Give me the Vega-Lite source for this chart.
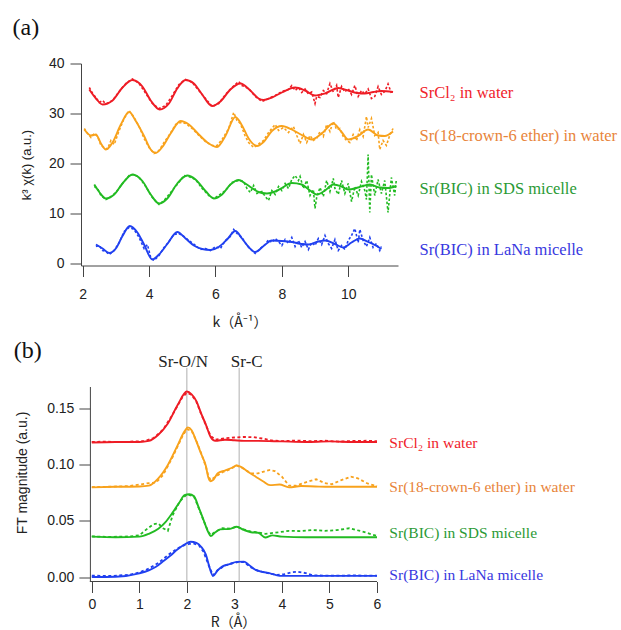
{
  "$schema": "https://vega.github.io/schema/vega-lite/v6.json",
  "background": "white",
  "padding": {"left": 12, "top": 15.5, "right": 0, "bottom": 0},
  "columns": 1,
  "spacing": 9,
  "config": {
    "view": {"stroke": null},
    "axis": {
      "grid": false,
      "labelFont": "Liberation Sans",
      "labelFontSize": 14,
      "labelColor": "#222",
      "labelFlush": false,
      "labelOverlap": false,
      "tickSize": 11,
      "tickColor": "#444",
      "domainColor": "#444",
      "titleFont": "Liberation Sans",
      "titleFontSize": 14,
      "titleFontWeight": "normal",
      "titleColor": "#222"
    }
  },
  "datasets": {
    "a_fit": [
      {"s":"r","x":2.2,"y":34.8},{"s":"r","x":2.4,"y":33.0},{"s":"r","x":2.6,"y":31.8},{"s":"r","x":2.9,"y":32.6},{"s":"r","x":3.2,"y":35.2},{"s":"r","x":3.5,"y":36.7},{"s":"r","x":3.8,"y":35.4},{"s":"r","x":4.05,"y":32.6},{"s":"r","x":4.32,"y":30.8},{"s":"r","x":4.6,"y":32.0},{"s":"r","x":4.85,"y":35.0},{"s":"r","x":5.1,"y":36.7},{"s":"r","x":5.35,"y":36.0},{"s":"r","x":5.6,"y":33.8},{"s":"r","x":5.9,"y":31.5},{"s":"r","x":6.15,"y":32.4},{"s":"r","x":6.45,"y":34.8},{"s":"r","x":6.75,"y":36.0},{"s":"r","x":7.05,"y":34.6},{"s":"r","x":7.3,"y":33.0},{"s":"r","x":7.45,"y":32.7},{"s":"r","x":7.7,"y":33.2},{"s":"r","x":8.0,"y":34.2},{"s":"r","x":8.4,"y":35.2},{"s":"r","x":8.7,"y":34.6},{"s":"r","x":9.0,"y":33.6},{"s":"r","x":9.3,"y":34.0},{"s":"r","x":9.7,"y":35.1},{"s":"r","x":10.0,"y":34.6},{"s":"r","x":10.26,"y":34.1},{"s":"r","x":10.5,"y":34.0},{"s":"r","x":10.76,"y":34.3},{"s":"r","x":11.0,"y":34.5},{"s":"r","x":11.35,"y":34.3},
      {"s":"o","x":2.05,"y":26.8},{"s":"o","x":2.25,"y":25.6},{"s":"o","x":2.4,"y":25.8},{"s":"o","x":2.55,"y":24.0},{"s":"o","x":2.7,"y":22.8},{"s":"o","x":2.9,"y":24.2},{"s":"o","x":3.15,"y":27.8},{"s":"o","x":3.4,"y":30.3},{"s":"o","x":3.6,"y":28.5},{"s":"o","x":3.85,"y":25.5},{"s":"o","x":4.05,"y":22.8},{"s":"o","x":4.2,"y":22.1},{"s":"o","x":4.4,"y":23.3},{"s":"o","x":4.65,"y":26.0},{"s":"o","x":4.95,"y":28.5},{"s":"o","x":5.2,"y":27.8},{"s":"o","x":5.5,"y":25.8},{"s":"o","x":5.8,"y":24.0},{"s":"o","x":6.05,"y":23.3},{"s":"o","x":6.3,"y":25.5},{"s":"o","x":6.6,"y":29.3},{"s":"o","x":6.8,"y":27.6},{"s":"o","x":7.0,"y":25.0},{"s":"o","x":7.25,"y":23.5},{"s":"o","x":7.45,"y":24.3},{"s":"o","x":7.7,"y":26.5},{"s":"o","x":8.0,"y":27.5},{"s":"o","x":8.3,"y":26.8},{"s":"o","x":8.6,"y":25.7},{"s":"o","x":8.9,"y":24.8},{"s":"o","x":9.2,"y":26.0},{"s":"o","x":9.55,"y":28.0},{"s":"o","x":9.8,"y":26.3},{"s":"o","x":10.0,"y":24.8},{"s":"o","x":10.3,"y":25.5},{"s":"o","x":10.6,"y":26.8},{"s":"o","x":10.9,"y":25.6},{"s":"o","x":11.1,"y":25.5},{"s":"o","x":11.35,"y":26.4},
      {"s":"g","x":2.35,"y":15.8},{"s":"g","x":2.5,"y":14.3},{"s":"g","x":2.7,"y":13.0},{"s":"g","x":2.95,"y":13.8},{"s":"g","x":3.2,"y":16.0},{"s":"g","x":3.5,"y":17.8},{"s":"g","x":3.8,"y":16.5},{"s":"g","x":4.05,"y":13.8},{"s":"g","x":4.3,"y":12.0},{"s":"g","x":4.55,"y":13.0},{"s":"g","x":4.85,"y":16.0},{"s":"g","x":5.15,"y":17.6},{"s":"g","x":5.4,"y":16.8},{"s":"g","x":5.7,"y":14.5},{"s":"g","x":5.95,"y":13.0},{"s":"g","x":6.2,"y":13.8},{"s":"g","x":6.45,"y":15.8},{"s":"g","x":6.7,"y":16.7},{"s":"g","x":6.9,"y":16.0},{"s":"g","x":7.1,"y":15.1},{"s":"g","x":7.3,"y":14.3},{"s":"g","x":7.55,"y":14.0},{"s":"g","x":7.8,"y":14.4},{"s":"g","x":8.0,"y":15.1},{"s":"g","x":8.3,"y":16.1},{"s":"g","x":8.6,"y":15.8},{"s":"g","x":8.85,"y":14.6},{"s":"g","x":9.05,"y":13.8},{"s":"g","x":9.3,"y":14.6},{"s":"g","x":9.55,"y":15.8},{"s":"g","x":9.8,"y":15.4},{"s":"g","x":10.0,"y":14.8},{"s":"g","x":10.3,"y":15.2},{"s":"g","x":10.65,"y":15.8},{"s":"g","x":10.95,"y":15.2},{"s":"g","x":11.2,"y":15.1},{"s":"g","x":11.45,"y":15.5},
      {"s":"b","x":2.4,"y":3.8},{"s":"b","x":2.6,"y":3.0},{"s":"b","x":2.8,"y":2.1},{"s":"b","x":3.0,"y":3.0},{"s":"b","x":3.2,"y":5.5},{"s":"b","x":3.42,"y":7.5},{"s":"b","x":3.65,"y":6.2},{"s":"b","x":3.85,"y":3.8},{"s":"b","x":4.1,"y":0.8},{"s":"b","x":4.3,"y":1.8},{"s":"b","x":4.55,"y":3.9},{"s":"b","x":4.85,"y":6.3},{"s":"b","x":5.1,"y":5.0},{"s":"b","x":5.35,"y":3.6},{"s":"b","x":5.6,"y":2.9},{"s":"b","x":5.85,"y":2.7},{"s":"b","x":6.1,"y":3.3},{"s":"b","x":6.35,"y":4.8},{"s":"b","x":6.6,"y":6.5},{"s":"b","x":6.8,"y":5.0},{"s":"b","x":7.0,"y":3.3},{"s":"b","x":7.2,"y":2.3},{"s":"b","x":7.45,"y":3.5},{"s":"b","x":7.7,"y":4.6},{"s":"b","x":8.0,"y":4.5},{"s":"b","x":8.3,"y":4.3},{"s":"b","x":8.6,"y":3.9},{"s":"b","x":8.8,"y":3.8},{"s":"b","x":9.1,"y":4.4},{"s":"b","x":9.3,"y":4.6},{"s":"b","x":9.6,"y":3.9},{"s":"b","x":9.85,"y":3.2},{"s":"b","x":10.1,"y":4.2},{"s":"b","x":10.35,"y":5.0},{"s":"b","x":10.6,"y":4.3},{"s":"b","x":10.8,"y":3.7},{"s":"b","x":11.0,"y":2.9}
    ],
    "a_dat": [
      {"s":"r","x":2.2,"y":35.2},{"s":"r","x":2.3,"y":34.0},{"s":"r","x":2.4,"y":33.2},{"s":"r","x":2.5,"y":32.2},{"s":"r","x":2.6,"y":32.6},{"s":"r","x":2.7,"y":31.9},{"s":"r","x":2.9,"y":32.6},{"s":"r","x":3.1,"y":34.4},{"s":"r","x":3.3,"y":36.0},{"s":"r","x":3.5,"y":36.9},{"s":"r","x":3.7,"y":36.0},{"s":"r","x":3.9,"y":34.0},{"s":"r","x":4.1,"y":32.0},{"s":"r","x":4.3,"y":31.0},{"s":"r","x":4.5,"y":31.6},{"s":"r","x":4.7,"y":33.6},{"s":"r","x":4.9,"y":35.8},{"s":"r","x":5.1,"y":36.8},{"s":"r","x":5.3,"y":36.2},{"s":"r","x":5.5,"y":34.6},{"s":"r","x":5.7,"y":33.0},{"s":"r","x":5.9,"y":31.4},{"s":"r","x":6.1,"y":32.0},{"s":"r","x":6.3,"y":33.8},{"s":"r","x":6.5,"y":35.2},{"s":"r","x":6.7,"y":36.4},{"s":"r","x":6.8,"y":35.6},{"s":"r","x":7.0,"y":35.0},{"s":"r","x":7.2,"y":33.4},{"s":"r","x":7.4,"y":32.4},{"s":"r","x":7.6,"y":33.0},{"s":"r","x":7.8,"y":33.6},{"s":"r","x":8.0,"y":34.4},{"s":"r","x":8.2,"y":34.8},{"s":"r","x":8.3,"y":35.6},{"s":"r","x":8.4,"y":34.6},{"s":"r","x":8.5,"y":35.2},{"s":"r","x":8.6,"y":34.2},{"s":"r","x":8.7,"y":34.9},{"s":"r","x":8.8,"y":33.9},{"s":"r","x":8.9,"y":34.3},{"s":"r","x":9.0,"y":32.0},{"s":"r","x":9.05,"y":33.4},{"s":"r","x":9.15,"y":33.2},{"s":"r","x":9.25,"y":34.6},{"s":"r","x":9.35,"y":34.0},{"s":"r","x":9.45,"y":36.0},{"s":"r","x":9.55,"y":34.3},{"s":"r","x":9.65,"y":35.6},{"s":"r","x":9.7,"y":33.2},{"s":"r","x":9.8,"y":35.4},{"s":"r","x":9.9,"y":34.3},{"s":"r","x":10.0,"y":35.0},{"s":"r","x":10.1,"y":33.8},{"s":"r","x":10.2,"y":35.6},{"s":"r","x":10.3,"y":33.4},{"s":"r","x":10.4,"y":34.6},{"s":"r","x":10.5,"y":33.9},{"s":"r","x":10.6,"y":34.9},{"s":"r","x":10.7,"y":33.0},{"s":"r","x":10.8,"y":33.4},{"s":"r","x":10.9,"y":35.4},{"s":"r","x":11.0,"y":33.8},{"s":"r","x":11.1,"y":34.4},{"s":"r","x":11.2,"y":35.9},{"s":"r","x":11.3,"y":34.1},
      {"s":"o","x":2.05,"y":27.0},{"s":"o","x":2.15,"y":26.0},{"s":"o","x":2.25,"y":25.2},{"s":"o","x":2.35,"y":26.0},{"s":"o","x":2.45,"y":25.4},{"s":"o","x":2.55,"y":23.6},{"s":"o","x":2.65,"y":23.2},{"s":"o","x":2.75,"y":22.9},{"s":"o","x":2.85,"y":24.6},{"s":"o","x":2.95,"y":23.8},{"s":"o","x":3.1,"y":26.6},{"s":"o","x":3.25,"y":29.0},{"s":"o","x":3.4,"y":30.6},{"s":"o","x":3.55,"y":29.2},{"s":"o","x":3.7,"y":27.4},{"s":"o","x":3.85,"y":25.0},{"s":"o","x":4.0,"y":23.2},{"s":"o","x":4.15,"y":22.0},{"s":"o","x":4.3,"y":22.6},{"s":"o","x":4.45,"y":24.2},{"s":"o","x":4.6,"y":25.6},{"s":"o","x":4.8,"y":27.8},{"s":"o","x":4.95,"y":28.2},{"s":"o","x":5.1,"y":28.0},{"s":"o","x":5.3,"y":27.0},{"s":"o","x":5.5,"y":25.6},{"s":"o","x":5.7,"y":24.4},{"s":"o","x":5.9,"y":23.6},{"s":"o","x":6.05,"y":23.6},{"s":"o","x":6.2,"y":24.8},{"s":"o","x":6.4,"y":27.0},{"s":"o","x":6.55,"y":30.2},{"s":"o","x":6.65,"y":28.6},{"s":"o","x":6.75,"y":28.0},{"s":"o","x":6.9,"y":25.4},{"s":"o","x":7.0,"y":24.2},{"s":"o","x":7.15,"y":23.2},{"s":"o","x":7.3,"y":23.9},{"s":"o","x":7.45,"y":24.6},{"s":"o","x":7.6,"y":26.2},{"s":"o","x":7.8,"y":27.8},{"s":"o","x":7.9,"y":26.6},{"s":"o","x":8.05,"y":27.2},{"s":"o","x":8.2,"y":26.2},{"s":"o","x":8.35,"y":27.4},{"s":"o","x":8.45,"y":25.6},{"s":"o","x":8.55,"y":24.0},{"s":"o","x":8.65,"y":25.8},{"s":"o","x":8.75,"y":24.2},{"s":"o","x":8.85,"y":25.6},{"s":"o","x":8.95,"y":24.6},{"s":"o","x":9.05,"y":25.0},{"s":"o","x":9.15,"y":26.4},{"s":"o","x":9.25,"y":25.4},{"s":"o","x":9.35,"y":27.8},{"s":"o","x":9.45,"y":26.4},{"s":"o","x":9.55,"y":28.4},{"s":"o","x":9.65,"y":26.8},{"s":"o","x":9.75,"y":27.0},{"s":"o","x":9.85,"y":25.4},{"s":"o","x":9.95,"y":24.6},{"s":"o","x":10.05,"y":24.2},{"s":"o","x":10.15,"y":25.8},{"s":"o","x":10.25,"y":24.6},{"s":"o","x":10.35,"y":26.8},{"s":"o","x":10.45,"y":25.4},{"s":"o","x":10.55,"y":29.4},{"s":"o","x":10.6,"y":27.2},{"s":"o","x":10.7,"y":29.0},{"s":"o","x":10.8,"y":25.6},{"s":"o","x":10.9,"y":26.2},{"s":"o","x":10.95,"y":22.8},{"s":"o","x":11.05,"y":24.6},{"s":"o","x":11.15,"y":23.6},{"s":"o","x":11.25,"y":25.6},{"s":"o","x":11.35,"y":27.0},
      {"s":"g","x":2.35,"y":15.4},{"s":"g","x":2.45,"y":15.0},{"s":"g","x":2.55,"y":13.6},{"s":"g","x":2.7,"y":12.8},{"s":"g","x":2.85,"y":13.4},{"s":"g","x":3.0,"y":14.2},{"s":"g","x":3.2,"y":16.0},{"s":"g","x":3.4,"y":17.6},{"s":"g","x":3.55,"y":17.8},{"s":"g","x":3.7,"y":17.2},{"s":"g","x":3.9,"y":15.4},{"s":"g","x":4.1,"y":13.2},{"s":"g","x":4.3,"y":11.8},{"s":"g","x":4.45,"y":12.6},{"s":"g","x":4.65,"y":14.2},{"s":"g","x":4.85,"y":15.8},{"s":"g","x":5.05,"y":17.6},{"s":"g","x":5.2,"y":17.4},{"s":"g","x":5.4,"y":16.8},{"s":"g","x":5.6,"y":15.0},{"s":"g","x":5.8,"y":13.6},{"s":"g","x":5.95,"y":13.0},{"s":"g","x":6.1,"y":13.6},{"s":"g","x":6.3,"y":14.6},{"s":"g","x":6.5,"y":16.2},{"s":"g","x":6.7,"y":16.6},{"s":"g","x":6.85,"y":16.4},{"s":"g","x":6.95,"y":15.0},{"s":"g","x":7.05,"y":14.2},{"s":"g","x":7.15,"y":15.6},{"s":"g","x":7.25,"y":14.0},{"s":"g","x":7.4,"y":14.4},{"s":"g","x":7.5,"y":13.4},{"s":"g","x":7.6,"y":12.6},{"s":"g","x":7.7,"y":14.6},{"s":"g","x":7.8,"y":13.8},{"s":"g","x":7.9,"y":15.4},{"s":"g","x":8.0,"y":14.6},{"s":"g","x":8.1,"y":16.0},{"s":"g","x":8.2,"y":15.0},{"s":"g","x":8.3,"y":16.8},{"s":"g","x":8.4,"y":17.6},{"s":"g","x":8.5,"y":16.6},{"s":"g","x":8.55,"y":17.4},{"s":"g","x":8.65,"y":15.0},{"s":"g","x":8.75,"y":16.6},{"s":"g","x":8.85,"y":13.6},{"s":"g","x":8.95,"y":14.8},{"s":"g","x":9.0,"y":11.0},{"s":"g","x":9.05,"y":13.2},{"s":"g","x":9.15,"y":15.2},{"s":"g","x":9.25,"y":13.4},{"s":"g","x":9.35,"y":16.6},{"s":"g","x":9.45,"y":14.4},{"s":"g","x":9.55,"y":17.0},{"s":"g","x":9.6,"y":15.0},{"s":"g","x":9.7,"y":13.8},{"s":"g","x":9.8,"y":16.6},{"s":"g","x":9.9,"y":14.0},{"s":"g","x":10.0,"y":16.0},{"s":"g","x":10.1,"y":12.4},{"s":"g","x":10.2,"y":15.4},{"s":"g","x":10.3,"y":13.6},{"s":"g","x":10.4,"y":16.4},{"s":"g","x":10.5,"y":14.6},{"s":"g","x":10.55,"y":12.8},{"s":"g","x":10.6,"y":21.8},{"s":"g","x":10.65,"y":10.2},{"s":"g","x":10.7,"y":17.8},{"s":"g","x":10.8,"y":13.6},{"s":"g","x":10.9,"y":16.8},{"s":"g","x":11.0,"y":14.0},{"s":"g","x":11.1,"y":16.6},{"s":"g","x":11.2,"y":10.2},{"s":"g","x":11.3,"y":17.2},{"s":"g","x":11.4,"y":13.6},{"s":"g","x":11.45,"y":16.8},
      {"s":"b","x":2.4,"y":3.4},{"s":"b","x":2.5,"y":3.6},{"s":"b","x":2.6,"y":2.6},{"s":"b","x":2.7,"y":2.4},{"s":"b","x":2.8,"y":1.8},{"s":"b","x":2.95,"y":2.6},{"s":"b","x":3.1,"y":4.2},{"s":"b","x":3.25,"y":6.4},{"s":"b","x":3.4,"y":7.2},{"s":"b","x":3.55,"y":6.8},{"s":"b","x":3.7,"y":5.2},{"s":"b","x":3.85,"y":3.0},{"s":"b","x":3.95,"y":3.8},{"s":"b","x":4.05,"y":1.2},{"s":"b","x":4.15,"y":0.6},{"s":"b","x":4.3,"y":1.6},{"s":"b","x":4.45,"y":3.2},{"s":"b","x":4.6,"y":4.4},{"s":"b","x":4.75,"y":5.8},{"s":"b","x":4.9,"y":6.0},{"s":"b","x":5.05,"y":5.4},{"s":"b","x":5.2,"y":4.6},{"s":"b","x":5.4,"y":3.6},{"s":"b","x":5.55,"y":2.8},{"s":"b","x":5.7,"y":3.0},{"s":"b","x":5.85,"y":2.6},{"s":"b","x":6.0,"y":3.4},{"s":"b","x":6.15,"y":3.0},{"s":"b","x":6.3,"y":4.6},{"s":"b","x":6.45,"y":5.4},{"s":"b","x":6.55,"y":6.8},{"s":"b","x":6.65,"y":6.0},{"s":"b","x":6.8,"y":5.2},{"s":"b","x":6.95,"y":3.6},{"s":"b","x":7.1,"y":2.6},{"s":"b","x":7.2,"y":2.0},{"s":"b","x":7.35,"y":3.0},{"s":"b","x":7.5,"y":3.8},{"s":"b","x":7.6,"y":4.8},{"s":"b","x":7.7,"y":4.2},{"s":"b","x":7.8,"y":5.0},{"s":"b","x":7.9,"y":4.4},{"s":"b","x":8.0,"y":3.6},{"s":"b","x":8.1,"y":4.8},{"s":"b","x":8.2,"y":4.0},{"s":"b","x":8.3,"y":5.2},{"s":"b","x":8.4,"y":3.4},{"s":"b","x":8.5,"y":4.6},{"s":"b","x":8.6,"y":3.2},{"s":"b","x":8.7,"y":4.4},{"s":"b","x":8.8,"y":2.8},{"s":"b","x":8.9,"y":4.2},{"s":"b","x":9.0,"y":3.6},{"s":"b","x":9.1,"y":5.0},{"s":"b","x":9.2,"y":3.8},{"s":"b","x":9.3,"y":5.6},{"s":"b","x":9.4,"y":4.0},{"s":"b","x":9.5,"y":3.0},{"s":"b","x":9.6,"y":4.8},{"s":"b","x":9.7,"y":2.6},{"s":"b","x":9.8,"y":3.6},{"s":"b","x":9.9,"y":2.8},{"s":"b","x":10.0,"y":4.6},{"s":"b","x":10.1,"y":5.6},{"s":"b","x":10.2,"y":7.0},{"s":"b","x":10.3,"y":4.2},{"s":"b","x":10.35,"y":6.8},{"s":"b","x":10.45,"y":4.6},{"s":"b","x":10.55,"y":3.4},{"s":"b","x":10.65,"y":5.2},{"s":"b","x":10.75,"y":3.2},{"s":"b","x":10.85,"y":4.0},{"s":"b","x":10.95,"y":2.6},{"s":"b","x":11.0,"y":3.4}
    ],
    "a_lab": [
      {"s":"r","t":"SrCl₂ in water","x":12.15,"y":34.1},
      {"s":"o","t":"Sr(18-crown-6 ether) in water","x":12.15,"y":25.6},
      {"s":"g","t":"Sr(BIC) in SDS micelle","x":12.15,"y":14.9},
      {"s":"b","t":"Sr(BIC) in LaNa micelle","x":12.15,"y":2.7}
    ],
    "b_fit": [
      {"s":"r","x":0,"y":0.1200},{"s":"r","x":0.5,"y":0.1205},{"s":"r","x":1.0,"y":0.1205},{"s":"r","x":1.2,"y":0.1215},{"s":"r","x":1.4,"y":0.127},{"s":"r","x":1.6,"y":0.137},{"s":"r","x":1.8,"y":0.153},{"s":"r","x":2.0,"y":0.1655},{"s":"r","x":2.1,"y":0.163},{"s":"r","x":2.2,"y":0.157},{"s":"r","x":2.3,"y":0.146},{"s":"r","x":2.4,"y":0.136},{"s":"r","x":2.5,"y":0.125},{"s":"r","x":2.6,"y":0.1215},{"s":"r","x":2.8,"y":0.1225},{"s":"r","x":3.0,"y":0.122},{"s":"r","x":3.2,"y":0.1215},{"s":"r","x":3.5,"y":0.1215},{"s":"r","x":4.0,"y":0.121},{"s":"r","x":4.5,"y":0.1205},{"s":"r","x":5.0,"y":0.121},{"s":"r","x":5.5,"y":0.1205},{"s":"r","x":6.0,"y":0.1205},
      {"s":"o","x":0,"y":0.0800},{"s":"o","x":0.5,"y":0.0805},{"s":"o","x":1.0,"y":0.0808},{"s":"o","x":1.2,"y":0.0815},{"s":"o","x":1.4,"y":0.088},{"s":"o","x":1.6,"y":0.100},{"s":"o","x":1.8,"y":0.117},{"s":"o","x":1.95,"y":0.130},{"s":"o","x":2.02,"y":0.1335},{"s":"o","x":2.1,"y":0.131},{"s":"o","x":2.2,"y":0.121},{"s":"o","x":2.3,"y":0.110},{"s":"o","x":2.4,"y":0.099},{"s":"o","x":2.45,"y":0.089},{"s":"o","x":2.5,"y":0.0855},{"s":"o","x":2.55,"y":0.0865},{"s":"o","x":2.65,"y":0.0925},{"s":"o","x":2.8,"y":0.095},{"s":"o","x":2.95,"y":0.0975},{"s":"o","x":3.05,"y":0.0995},{"s":"o","x":3.15,"y":0.098},{"s":"o","x":3.3,"y":0.0935},{"s":"o","x":3.45,"y":0.0895},{"s":"o","x":3.6,"y":0.0855},{"s":"o","x":3.75,"y":0.082},{"s":"o","x":3.95,"y":0.0825},{"s":"o","x":4.15,"y":0.0800},{"s":"o","x":4.4,"y":0.0812},{"s":"o","x":4.7,"y":0.0808},{"s":"o","x":5.0,"y":0.0805},{"s":"o","x":5.5,"y":0.0805},{"s":"o","x":6.0,"y":0.0805},
      {"s":"g","x":0,"y":0.0360},{"s":"g","x":0.5,"y":0.0355},{"s":"g","x":1.0,"y":0.0360},{"s":"g","x":1.2,"y":0.0385},{"s":"g","x":1.4,"y":0.043},{"s":"g","x":1.55,"y":0.049},{"s":"g","x":1.7,"y":0.0575},{"s":"g","x":1.85,"y":0.067},{"s":"g","x":1.95,"y":0.073},{"s":"g","x":2.05,"y":0.0738},{"s":"g","x":2.15,"y":0.072},{"s":"g","x":2.25,"y":0.062},{"s":"g","x":2.35,"y":0.051},{"s":"g","x":2.45,"y":0.040},{"s":"g","x":2.5,"y":0.0365},{"s":"g","x":2.6,"y":0.040},{"s":"g","x":2.7,"y":0.0425},{"s":"g","x":2.9,"y":0.043},{"s":"g","x":3.05,"y":0.0448},{"s":"g","x":3.2,"y":0.042},{"s":"g","x":3.35,"y":0.040},{"s":"g","x":3.5,"y":0.0395},{"s":"g","x":3.65,"y":0.0352},{"s":"g","x":3.8,"y":0.0372},{"s":"g","x":4.0,"y":0.036},{"s":"g","x":4.5,"y":0.0355},{"s":"g","x":5.0,"y":0.0355},{"s":"g","x":5.5,"y":0.0355},{"s":"g","x":6.0,"y":0.0355},
      {"s":"b","x":0,"y":0.0000},{"s":"b","x":0.5,"y":0.0003},{"s":"b","x":1.0,"y":0.0033},{"s":"b","x":1.2,"y":0.006},{"s":"b","x":1.35,"y":0.0092},{"s":"b","x":1.5,"y":0.014},{"s":"b","x":1.65,"y":0.019},{"s":"b","x":1.8,"y":0.0245},{"s":"b","x":1.95,"y":0.029},{"s":"b","x":2.08,"y":0.0315},{"s":"b","x":2.2,"y":0.0305},{"s":"b","x":2.3,"y":0.027},{"s":"b","x":2.4,"y":0.020},{"s":"b","x":2.48,"y":0.008},{"s":"b","x":2.55,"y":0.001},{"s":"b","x":2.65,"y":0.006},{"s":"b","x":2.75,"y":0.0095},{"s":"b","x":2.9,"y":0.0115},{"s":"b","x":3.05,"y":0.0135},{"s":"b","x":3.2,"y":0.0137},{"s":"b","x":3.3,"y":0.011},{"s":"b","x":3.45,"y":0.0063},{"s":"b","x":3.6,"y":0.0045},{"s":"b","x":3.75,"y":0.0033},{"s":"b","x":3.95,"y":0.001},{"s":"b","x":4.5,"y":0.001},{"s":"b","x":5.0,"y":0.001},{"s":"b","x":5.5,"y":0.001},{"s":"b","x":6.0,"y":0.001}
    ],
    "b_dat": [
      {"s":"r","x":0,"y":0.1205},{"s":"r","x":0.3,"y":0.1208},{"s":"r","x":0.6,"y":0.1203},{"s":"r","x":0.9,"y":0.121},{"s":"r","x":1.1,"y":0.1212},{"s":"r","x":1.3,"y":0.124},{"s":"r","x":1.5,"y":0.1315},{"s":"r","x":1.7,"y":0.145},{"s":"r","x":1.9,"y":0.160},{"s":"r","x":2.0,"y":0.1645},{"s":"r","x":2.1,"y":0.1625},{"s":"r","x":2.2,"y":0.1565},{"s":"r","x":2.3,"y":0.1455},{"s":"r","x":2.4,"y":0.1355},{"s":"r","x":2.5,"y":0.126},{"s":"r","x":2.6,"y":0.1225},{"s":"r","x":2.8,"y":0.1238},{"s":"r","x":3.0,"y":0.1245},{"s":"r","x":3.2,"y":0.125},{"s":"r","x":3.4,"y":0.1248},{"s":"r","x":3.6,"y":0.1235},{"s":"r","x":3.8,"y":0.1218},{"s":"r","x":4.0,"y":0.1212},{"s":"r","x":4.3,"y":0.1218},{"s":"r","x":4.6,"y":0.1212},{"s":"r","x":4.9,"y":0.1216},{"s":"r","x":5.2,"y":0.1208},{"s":"r","x":5.5,"y":0.1214},{"s":"r","x":5.8,"y":0.1216},{"s":"r","x":6.0,"y":0.1212},
      {"s":"o","x":0,"y":0.0803},{"s":"o","x":0.4,"y":0.0806},{"s":"o","x":0.8,"y":0.0812},{"s":"o","x":1.0,"y":0.0825},{"s":"o","x":1.2,"y":0.0838},{"s":"o","x":1.35,"y":0.0842},{"s":"o","x":1.5,"y":0.091},{"s":"o","x":1.7,"y":0.107},{"s":"o","x":1.9,"y":0.125},{"s":"o","x":2.0,"y":0.132},{"s":"o","x":2.1,"y":0.1305},{"s":"o","x":2.2,"y":0.1215},{"s":"o","x":2.3,"y":0.1105},{"s":"o","x":2.4,"y":0.0985},{"s":"o","x":2.45,"y":0.0905},{"s":"o","x":2.5,"y":0.0865},{"s":"o","x":2.6,"y":0.0895},{"s":"o","x":2.75,"y":0.0935},{"s":"o","x":2.9,"y":0.096},{"s":"o","x":3.05,"y":0.0995},{"s":"o","x":3.2,"y":0.0965},{"s":"o","x":3.35,"y":0.0925},{"s":"o","x":3.5,"y":0.0925},{"s":"o","x":3.65,"y":0.0945},{"s":"o","x":3.75,"y":0.0955},{"s":"o","x":3.85,"y":0.0945},{"s":"o","x":4.0,"y":0.0895},{"s":"o","x":4.15,"y":0.0815},{"s":"o","x":4.3,"y":0.0815},{"s":"o","x":4.5,"y":0.0845},{"s":"o","x":4.72,"y":0.0872},{"s":"o","x":4.9,"y":0.0838},{"s":"o","x":5.05,"y":0.0828},{"s":"o","x":5.25,"y":0.0865},{"s":"o","x":5.45,"y":0.0895},{"s":"o","x":5.6,"y":0.088},{"s":"o","x":5.8,"y":0.0835},{"s":"o","x":6.0,"y":0.081},
      {"s":"g","x":0,"y":0.0362},{"s":"g","x":0.4,"y":0.0358},{"s":"g","x":0.8,"y":0.0362},{"s":"g","x":1.0,"y":0.0372},{"s":"g","x":1.15,"y":0.0425},{"s":"g","x":1.3,"y":0.0472},{"s":"g","x":1.4,"y":0.0478},{"s":"g","x":1.5,"y":0.0435},{"s":"g","x":1.6,"y":0.0412},{"s":"g","x":1.7,"y":0.055},{"s":"g","x":1.85,"y":0.0675},{"s":"g","x":2.0,"y":0.0738},{"s":"g","x":2.15,"y":0.0718},{"s":"g","x":2.25,"y":0.0615},{"s":"g","x":2.35,"y":0.0505},{"s":"g","x":2.45,"y":0.0405},{"s":"g","x":2.5,"y":0.0375},{"s":"g","x":2.6,"y":0.0405},{"s":"g","x":2.75,"y":0.0435},{"s":"g","x":2.9,"y":0.0432},{"s":"g","x":3.05,"y":0.0448},{"s":"g","x":3.2,"y":0.0425},{"s":"g","x":3.35,"y":0.0405},{"s":"g","x":3.5,"y":0.0398},{"s":"g","x":3.65,"y":0.0385},{"s":"g","x":3.85,"y":0.0395},{"s":"g","x":4.15,"y":0.0412},{"s":"g","x":4.4,"y":0.041},{"s":"g","x":4.64,"y":0.042},{"s":"g","x":4.9,"y":0.0412},{"s":"g","x":5.15,"y":0.0418},{"s":"g","x":5.42,"y":0.0435},{"s":"g","x":5.7,"y":0.0405},{"s":"g","x":6.0,"y":0.0366},
      {"s":"b","x":0,"y":0.0012},{"s":"b","x":0.4,"y":0.0009},{"s":"b","x":0.8,"y":0.002},{"s":"b","x":1.0,"y":0.0042},{"s":"b","x":1.2,"y":0.0075},{"s":"b","x":1.4,"y":0.0125},{"s":"b","x":1.6,"y":0.0195},{"s":"b","x":1.8,"y":0.0255},{"s":"b","x":1.95,"y":0.0285},{"s":"b","x":2.05,"y":0.0295},{"s":"b","x":2.15,"y":0.0298},{"s":"b","x":2.25,"y":0.0285},{"s":"b","x":2.35,"y":0.0225},{"s":"b","x":2.45,"y":0.0115},{"s":"b","x":2.55,"y":0.0015},{"s":"b","x":2.65,"y":0.0062},{"s":"b","x":2.8,"y":0.0102},{"s":"b","x":2.95,"y":0.0122},{"s":"b","x":3.1,"y":0.0135},{"s":"b","x":3.2,"y":0.0132},{"s":"b","x":3.35,"y":0.0085},{"s":"b","x":3.5,"y":0.0055},{"s":"b","x":3.7,"y":0.0035},{"s":"b","x":3.9,"y":0.0018},{"s":"b","x":4.05,"y":0.0025},{"s":"b","x":4.2,"y":0.0042},{"s":"b","x":4.33,"y":0.0048},{"s":"b","x":4.5,"y":0.0035},{"s":"b","x":4.65,"y":0.0015},{"s":"b","x":5.0,"y":0.0012},{"s":"b","x":5.5,"y":0.0014},{"s":"b","x":6.0,"y":0.0012}
    ],
    "b_lab": [
      {"s":"r","t":"SrCl₂ in water","x":6.26,"y":0.1194},
      {"s":"o","t":"Sr(18-crown-6 ether) in water","x":6.26,"y":0.0801},
      {"s":"g","t":"Sr(BIC) in SDS micelle","x":6.26,"y":0.0396},
      {"s":"b","t":"Sr(BIC) in LaNa micelle","x":6.26,"y":0.0018}
    ]
  },
  "concat": [
    {
      "width": 317,
      "height": 202,
      "encoding": {
        "x": {"field": "x", "type": "quantitative",
          "scale": {"domain": [1.95, 11.5], "nice": false, "zero": false},
          "axis": {"values": [2, 4, 6, 8, 10], "title": "k（Å⁻¹）", "titleFont": "Noto Sans CJK JP", "titleFontSize": 14, "labelPadding": 11, "titlePadding": 14}},
        "y": {"field": "y", "type": "quantitative",
          "scale": {"domain": [-0.4, 40], "nice": false, "zero": false},
          "axis": {"values": [0, 10, 20, 30, 40], "title": "k³ χ(k) (a.u.)", "titleFontSize": 13, "labelPadding": 6, "titlePadding": 15}}
      },
      "layer": [
        {"data": {"name": "a_dat"},
         "mark": {"type": "line", "strokeWidth": 1.6, "strokeDash": [2.5, 2]},
         "encoding": {"color": {"field": "s", "type": "nominal", "legend": null,
           "scale": {"domain": ["r", "o", "g", "b"], "range": ["#ee1c25", "#f8a21c", "#22bb22", "#2040f0"]}}}},
        {"data": {"name": "a_fit"},
         "mark": {"type": "line", "strokeWidth": 1.9, "interpolate": "monotone"},
         "encoding": {"color": {"field": "s", "type": "nominal", "legend": null,
           "scale": {"domain": ["r", "o", "g", "b"], "range": ["#ee1c25", "#f8a21c", "#22bb22", "#2040f0"]}}}},
        {"data": {"name": "a_lab"},
         "mark": {"type": "text", "font": "Liberation Serif", "fontSize": 16.5, "align": "left", "baseline": "middle"},
         "encoding": {"text": {"field": "t"},
           "fill": {"field": "s", "type": "nominal", "legend": null,
             "scale": {"domain": ["r", "o", "g", "b"], "range": ["#f0222b", "#e8843a", "#2b9a35", "#3838e0"]}}}},
        {"data": {"values": [{"t": "(a)", "x": -0.11, "y": 49.5}]},
         "mark": {"type": "text", "font": "Liberation Serif", "fontSize": 24, "align": "left", "baseline": "top", "color": "#111"},
         "encoding": {"text": {"field": "t"}}}
      ]
    },
    {
      "width": 296,
      "height": 195,
      "encoding": {
        "x": {"field": "x", "type": "quantitative",
          "scale": {"domain": [-0.227, 6], "nice": false, "zero": false},
          "axis": {"values": [0, 1, 2, 3, 4, 5, 6], "domain": false, "title": "R（Å）", "titleFont": "Noto Sans CJK JP", "titleFontSize": 14, "titleX": 152, "labelPadding": 5, "titlePadding": 4}},
        "y": {"field": "y", "type": "quantitative",
          "scale": {"domain": [-0.004, 0.17], "nice": false, "zero": false},
          "axis": {"values": [0, 0.05, 0.1, 0.15], "format": ".2f", "offset": -8.9, "title": "FT magnitude (a.u.)", "titleFontSize": 14, "labelPadding": 5, "titlePadding": 17, "titleY": 86}}
      },
      "layer": [
        {"data": {"values": [{"x": -0.04, "x2": 6, "y": -0.004}]},
         "mark": {"type": "rule", "color": "#444", "strokeWidth": 1},
         "encoding": {"x2": {"field": "x2"}}},
        {"data": {"values": [{"x": 2.0, "y": 0.1866, "y2": -0.004}, {"x": 3.1, "y": 0.1866, "y2": -0.004}]},
         "mark": {"type": "rule", "color": "#9a9a9a", "strokeWidth": 0.8},
         "encoding": {"y2": {"field": "y2"}}},
        {"data": {"name": "b_dat"},
         "mark": {"type": "line", "strokeWidth": 1.8, "strokeDash": [3, 2.5]},
         "encoding": {"color": {"field": "s", "type": "nominal", "legend": null,
           "scale": {"domain": ["r", "o", "g", "b"], "range": ["#ee1c25", "#f8a21c", "#22bb22", "#2040f0"]}}}},
        {"data": {"name": "b_fit"},
         "mark": {"type": "line", "strokeWidth": 1.9, "interpolate": "monotone"},
         "encoding": {"color": {"field": "s", "type": "nominal", "legend": null,
           "scale": {"domain": ["r", "o", "g", "b"], "range": ["#ee1c25", "#f8a21c", "#22bb22", "#2040f0"]}}}},
        {"data": {"name": "b_lab"},
         "mark": {"type": "text", "font": "Liberation Serif", "fontSize": 15.5, "align": "left", "baseline": "middle"},
         "encoding": {"text": {"field": "t"},
           "fill": {"field": "s", "type": "nominal", "legend": null,
             "scale": {"domain": ["r", "o", "g", "b"], "range": ["#f0222b", "#e8843a", "#2b9a35", "#3838e0"]}}}},
        {"data": {"values": [{"t": "Sr-O/N", "x": 1.92, "y": 0.1875}, {"t": "Sr-C", "x": 3.26, "y": 0.1875}]},
         "mark": {"type": "text", "font": "Liberation Serif", "fontSize": 17, "align": "center", "baseline": "alphabetic", "color": "#222"},
         "encoding": {"text": {"field": "t"}}},
        {"data": {"values": [{"t": "(b)", "x": -1.644, "y": 0.2125}]},
         "mark": {"type": "text", "font": "Liberation Serif", "fontSize": 24, "align": "left", "baseline": "top", "color": "#111"},
         "encoding": {"text": {"field": "t"}}}
      ]
    }
  ]
}
